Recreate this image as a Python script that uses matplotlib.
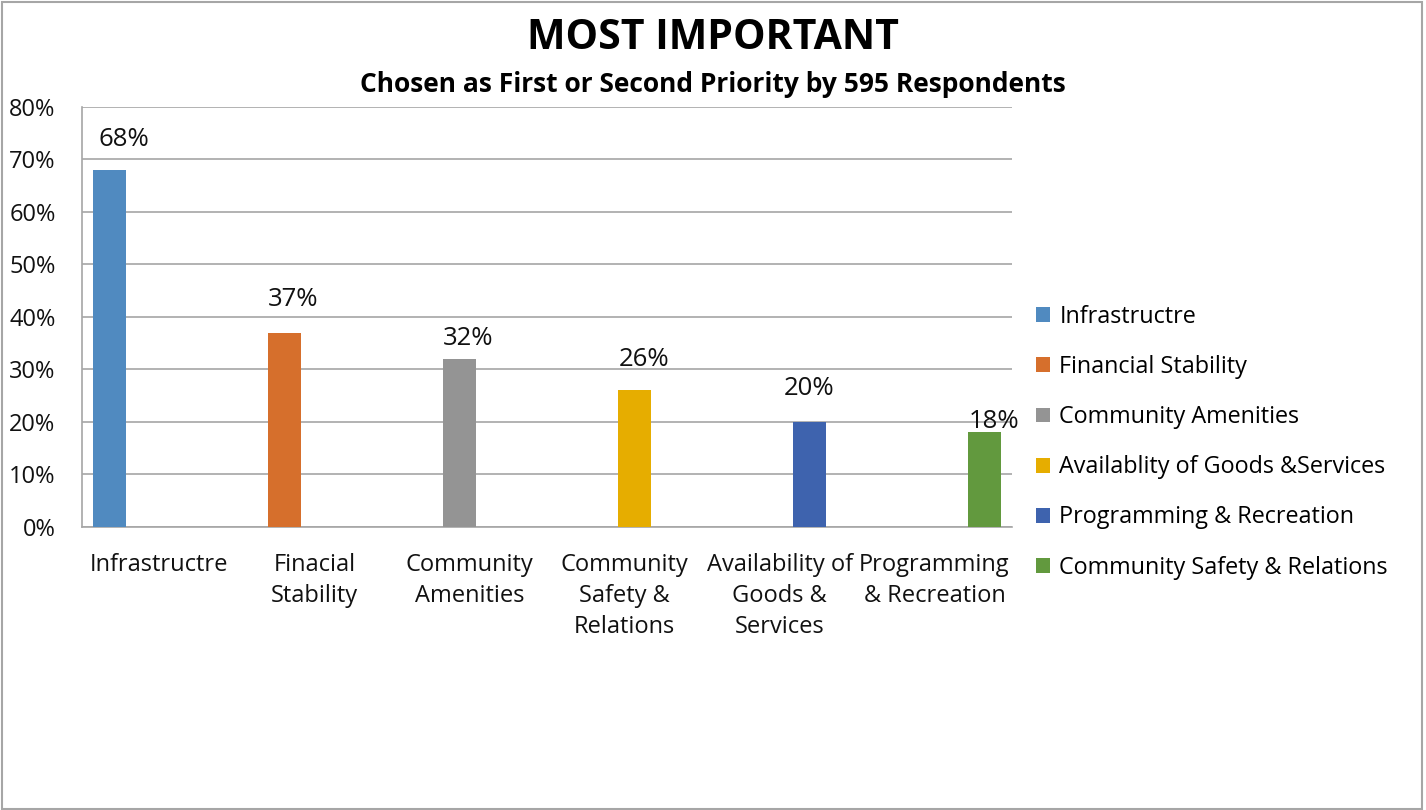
import matplotlib.pyplot as plt
import matplotlib.patches as mpatches
import numpy as np

plt.rcParams['font.family'] = ['Open Sans', 'DejaVu Sans']

categories = ['Infrastructre', 'Finacial\nStability', 'Community\nAmenities',
              'Community\nSafety &\nRelations', 'Availability of\nGoods &\nServices',
              'Programming\n& Recreation']
series = ['Infrastructre', 'Financial Stability', 'Community Amenities',
          'Availablity of Goods &Services', 'Programming & Recreation',
          'Community Safety & Relations']
values = [68, 37, 32, 26, 20, 18]
y_ticks = [0, 10, 20, 30, 40, 50, 60, 70, 80]

colorz = ['#508AC0', '#D66F2C', '#949494', '#E6AD00', '#3E63AE', '#62993E']
# shift of each value label from the top centre of its bar, in points
label_dx = [10, 6.5, 6.5, 7, 0, 7]
label_dy = [13, 15, 6, 13, 15, -1]

fig = plt.figure(figsize=(14.26, 8.1), dpi=100)
ax = fig.add_axes([0.0575, 0.3494, 0.6522, 0.5185])

# clustered layout: each series only has a value in its own category
width = 0.213
step = 0.129
x = np.arange(len(categories))
handles = []
for i, v in enumerate(values):
    xpos = x[i] + (i - 2.5) * step
    b = ax.bar(xpos, v, width, color=colorz[i], label=series[i], zorder=3)
    handles.append(b)
    ax.annotate('%d%%' % v, xy=(xpos, v), xytext=(label_dx[i], label_dy[i]),
                textcoords='offset points', ha='center', va='bottom',
                fontsize=18.5, color='#111111')

ax.set_xlim(-0.5, 5.5)
ax.set_ylim(0, 80)
ax.set_yticks(y_ticks)
ax.set_yticklabels(['%d%%' % t for t in y_ticks], fontsize=17)
ax.set_xticks(x)
ax.set_xticklabels(categories, fontsize=17, linespacing=1.38)
ax.tick_params(axis='both', length=0, colors='#111111')
ax.tick_params(axis='y', pad=19)
ax.tick_params(axis='x', pad=19)

ax.yaxis.grid(True, color='#A6A6A6', linewidth=1.2, zorder=0)
ax.set_axisbelow(True)
for s in ['top', 'right']:
    ax.spines[s].set_visible(False)
for s in ['left', 'bottom']:
    ax.spines[s].set_color('#A6A6A6')
    ax.spines[s].set_linewidth(1.2)

fig.text(0.5, 0.952, 'MOST IMPORTANT', ha='center', va='center',
         fontsize=29.5, fontweight='bold')
fig.text(0.5, 0.896, 'Chosen as First or Second Priority by 595 Respondents',
         ha='center', va='center', fontsize=19, fontweight='bold')

fig.legend(handles=handles, loc='center left', bbox_to_anchor=(0.72, 0.454),
           frameon=False, fontsize=16.8, handlelength=0.6, handleheight=0.6,
           handletextpad=0.4, labelspacing=1.12, borderaxespad=0)

fig.patches.append(mpatches.Rectangle((0.0015, 0.001), 0.996, 0.997,
                                      transform=fig.transFigure, fill=False,
                                      edgecolor='#A6A6A6', linewidth=1.5))

plt.savefig('out.png', dpi=100)
